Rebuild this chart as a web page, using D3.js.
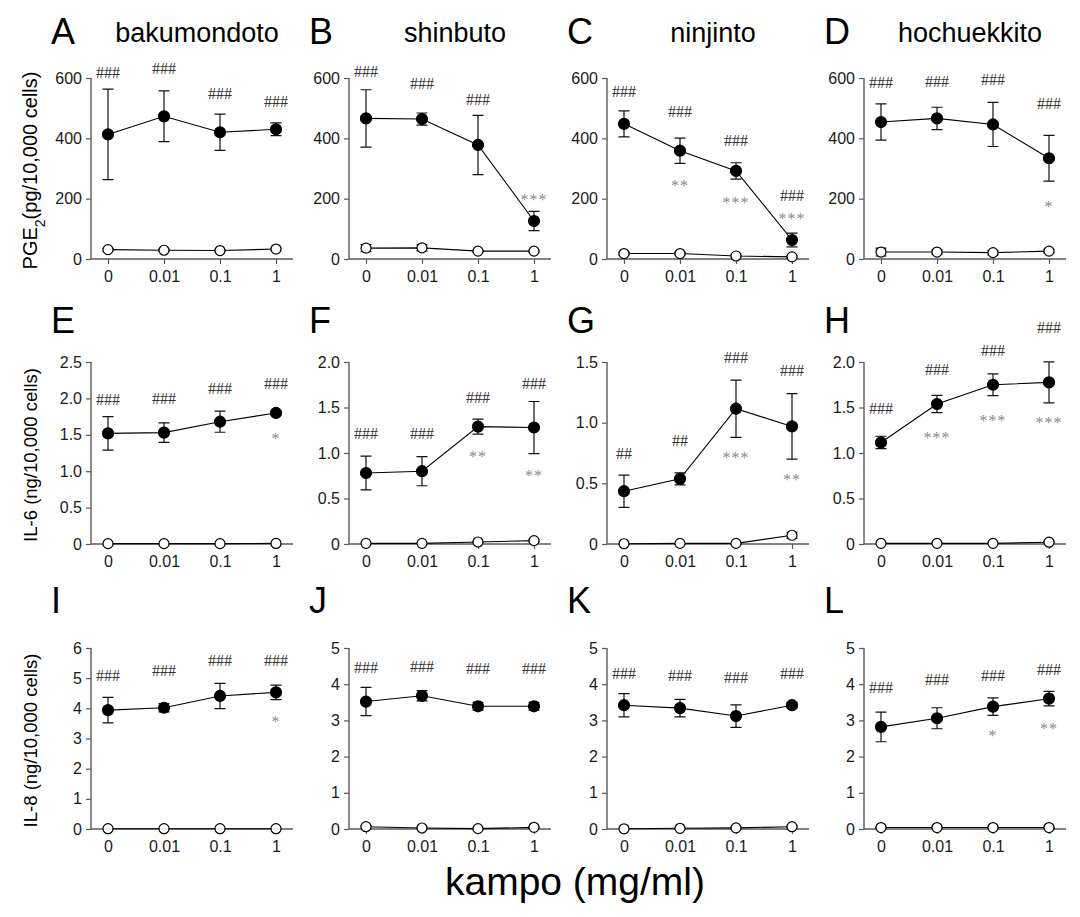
<!DOCTYPE html>
<html>
<head>
<meta charset="utf-8">
<script src="https://cdn.jsdelivr.net/npm/d3@7"></script>
<style>
  html, body { margin: 0; padding: 0; background: #fff; }
  svg { display: block; font-family: "Liberation Sans", Arial, Helvetica, sans-serif; }
</style>
</head>
<body>
<svg id="chart" width="1080" height="917"></svg>
<script>
// ---------------- data ----------------
const doseLabels = ["0", "0.01", "0.1", "1"];
const panelLetters = ["A","B","C","D","E","F","G","H","I","J","K","L"];
const kampoNames = ["bakumondoto", "shinbuto", "ninjinto", "hochuekkito"];
const rowMeasures = ["PGE2", "IL-6", "IL-8"];
const yMaxes = [600, 600, 600, 600, 2.5, 2.0, 1.5, 2.0, 6, 5, 5, 5];
const yTickValues = [
  [0, 200, 400, 600], [0, 200, 400, 600], [0, 200, 400, 600], [0, 200, 400, 600],
  [0, 0.5, 1.0, 1.5, 2.0, 2.5], [0, 0.5, 1.0, 1.5, 2.0], [0, 0.5, 1.0, 1.5], [0, 0.5, 1.0, 1.5, 2.0],
  [0, 1, 2, 3, 4, 5, 6], [0, 1, 2, 3, 4, 5], [0, 1, 2, 3, 4, 5], [0, 1, 2, 3, 4, 5]
];
// stimulated (filled) series
const lpsMean = [
  [413, 473, 420, 430], [466, 464, 378, 126], [448, 359, 292, 63], [454, 466, 446, 334],
  [1.52, 1.53, 1.68, 1.80], [0.78, 0.80, 1.29, 1.28], [0.435, 0.537, 1.115, 0.969], [1.116, 1.538, 1.75, 1.776],
  [3.94, 4.02, 4.41, 4.53], [3.52, 3.68, 3.39, 3.39], [3.42, 3.34, 3.12, 3.42], [2.82, 3.06, 3.38, 3.60]
];
const lpsErr = [
  [150, 84, 60, 21], [95, 20, 98, 32], [43, 42, 27, 23], [60, 37, 73, 76],
  [0.23, 0.135, 0.145, 0.03], [0.185, 0.16, 0.083, 0.286], [0.133, 0.05, 0.236, 0.27], [0.068, 0.095, 0.12, 0.225],
  [0.42, 0.14, 0.42, 0.24], [0.39, 0.14, 0.11, 0.11], [0.32, 0.24, 0.31, 0.07], [0.41, 0.29, 0.24, 0.2]
];
// control (open) series
const ctrlMean = [
  [31, 29, 28, 33], [36, 37, 26, 26], [18, 18, 10, 7], [23, 23, 21, 26],
  [0.005, 0.005, 0.005, 0.008], [0.007, 0.007, 0.022, 0.037], [0.002, 0.005, 0.005, 0.072], [0.007, 0.007, 0.007, 0.02],
  [0.01, 0.01, 0.01, 0.01], [0.064, 0.028, 0.01, 0.046], [0.005, 0.02, 0.03, 0.064], [0.04, 0.04, 0.04, 0.04]
];
const ctrlErr = [
  [4, 4, 3, 4], [12, 10, 3, 3], [4, 4, 3, 3], [13, 7, 7, 6],
  [0, 0, 0, 0], [0, 0, 0.005, 0.01], [0, 0, 0, 0.025], [0, 0, 0, 0.008],
  [0, 0, 0, 0], [0.03, 0.02, 0.01, 0.02], [0, 0.015, 0.02, 0.02], [0.02, 0.02, 0.02, 0.02]
];
// significance marks and the value level at which they are printed
const hashText = [
  ["###","###","###","###"], ["###","###","###",""], ["###","###","###","###"], ["###","###","###","###"],
  ["###","###","###","###"], ["###","###","###","###"], ["##","##","###","###"], ["###","###","###","###"],
  ["###","###","###","###"], ["###","###","###","###"], ["###","###","###","###"], ["###","###","###","###"]
];
const hashLevel = [
  [617, 631, 548, 521], [622, 581, 529, null], [556, 487, 393, 210], [586, 589, 595, 515],
  [1.98, 1.995, 2.14, 2.20], [1.211, 1.218, 1.604, 1.761], [0.749, 0.853, 1.533, 1.429], [1.49, 1.916, 2.128, 2.374],
  [5.095, 5.239, 5.59, 5.59], [4.45, 4.49, 4.43, 4.43], [4.29, 4.25, 4.17, 4.29], [3.906, 4.127, 4.246, 4.40]
];
const starText = [
  ["","","",""], ["","","","***"], ["","**","***","***"], ["","","","*"],
  ["","","","*"], ["","","**","**"], ["","","***","**"], ["","***","***","***"],
  ["","","","*"], ["","","",""], ["","","",""], ["","","*","**"]
];
const starLevel = [
  [null,null,null,null], [null,null,null,207], [null,251,196,141], [null,null,null,181],
  [null,null,null,1.49], [null,null,0.99,0.785], [null,null,0.732,0.556], [null,1.2,1.39,1.358],
  [null,null,null,3.66], [null,null,null,null], [null,null,null,null], [null,null,2.64,2.85]
];
const xAxisTitle = "kampo (mg/ml)";

// ---------------- layout ----------------
const colAxisX = [91, 349, 607, 864];
const rowTop = [78, 362, 648];
const rowBottom = [259, 544, 829];
const letterBaseline = [44, 333, 613];
const plotWidth = 202;
const axisColor = "#5a5a5a";

const svg = d3.select("#chart");

function fmtTick(panel, v) {
  if (v === 0) return "0";
  if (panel >= 4 && panel < 8) return d3.format(".1f")(v);
  return String(v);
}

for (let p = 0; p < 12; p++) {
  const r = Math.floor(p / 4), c = p % 4;
  const x0 = colAxisX[c];
  const x = d3.scalePoint().domain(doseLabels).range([x0 + 17, x0 + 17 + 56 * 3]);
  const y = d3.scaleLinear().domain([0, yMaxes[p]]).range([rowBottom[r], rowTop[r]]);
  const g = svg.append("g");

  // y axis
  const yAx = g.append("g").attr("transform", `translate(${x0},0)`)
    .call(d3.axisLeft(y).tickValues(yTickValues[p]).tickSize(5).tickPadding(4).tickFormat(v => fmtTick(p, v)));
  yAx.select(".domain").attr("stroke", axisColor).attr("stroke-width", 1.4).attr("d", `M0,${rowTop[r]}V${rowBottom[r]}`);
  yAx.selectAll(".tick line").attr("stroke", axisColor).attr("stroke-width", 1.2);
  yAx.selectAll(".tick text").attr("fill", "#1a1a1a").style("font-size", "16px");

  // x axis
  const xAx = g.append("g").attr("transform", `translate(0,${rowBottom[r]})`)
    .call(d3.axisBottom(x).tickSize(5).tickPadding(7));
  xAx.select(".domain").attr("stroke", axisColor).attr("stroke-width", 1.4).attr("d", `M${x0},0H${x0 + plotWidth}`);
  xAx.selectAll(".tick line").attr("stroke", axisColor).attr("stroke-width", 1.2);
  xAx.selectAll(".tick text").attr("fill", "#1a1a1a").style("font-size", "16px");

  const line = d3.line().x((d, i) => x(doseLabels[i])).y(d => y(d));

  // series: control (open) then stimulated (filled)
  const series = [
    { mean: ctrlMean[p], err: ctrlErr[p], fill: "#fff" },
    { mean: lpsMean[p], err: lpsErr[p], fill: "#000" }
  ];
  series.forEach(s => {
    g.append("path").datum(s.mean).attr("d", line)
      .attr("fill", "none").attr("stroke", "#000").attr("stroke-width", 1.1);
    s.mean.forEach((m, i) => {
      const e = s.err[i];
      if (e > 0) {
        const cx = x(doseLabels[i]);
        const yt = y(m + e), yb = y(Math.max(0, m - e));
        g.append("path")
          .attr("d", `M${cx},${yt}V${yb}M${cx - 5.5},${yt}H${cx + 5.5}M${cx - 5.5},${yb}H${cx + 5.5}`)
          .attr("stroke", "#111").attr("stroke-width", 1.2).attr("fill", "none");
      }
    });
    g.selectAll(null).data(s.mean).enter().append("circle")
      .attr("cx", (d, i) => x(doseLabels[i])).attr("cy", d => y(d))
      .attr("r", s.fill === "#000" ? 5.5 : 5)
      .attr("fill", s.fill).attr("stroke", "#000").attr("stroke-width", 1.2);
  });

  // significance marks
  hashText[p].forEach((t, i) => {
    if (!t || hashLevel[p][i] == null) return;
    g.append("text").attr("x", x(doseLabels[i])).attr("y", y(hashLevel[p][i]) + 5.4)
      .attr("text-anchor", "middle").attr("fill", "#333")
      .style("font-family", "'Liberation Serif', 'Times New Roman', serif").style("font-size", "16px")
      .text(t);
  });
  starText[p].forEach((t, i) => {
    if (!t || starLevel[p][i] == null) return;
    g.append("text").attr("x", x(doseLabels[i])).attr("y", y(starLevel[p][i]) + 8)
      .attr("text-anchor", "middle").attr("fill", "#8a8a8a").attr("letter-spacing", "1px")
      .style("font-family", "'Liberation Serif', 'Times New Roman', serif").style("font-size", "16px")
      .text(t);
  });

  // panel letter
  svg.append("text").attr("x", x0 - 40).attr("y", letterBaseline[r])
    .style("font-size", "36px").attr("fill", "#000").text(panelLetters[p]);
  // kampo name on first row
  if (r === 0) {
    svg.append("text").attr("x", x0 + 106).attr("y", 42).attr("text-anchor", "middle")
      .style("font-size", "27px").attr("fill", "#000").text(kampoNames[c]);
  }
}

// y axis labels
rowMeasures.forEach((m, r) => {
  const cy = (rowTop[r] + rowBottom[r]) / 2 + 2;
  const t = svg.append("text").attr("transform", `translate(37,${cy}) rotate(-90)`)
    .attr("text-anchor", "middle").attr("fill", "#000");
  if (m === "PGE2") {
    t.style("font-size", "20px");
    t.append("tspan").text("PGE");
    t.append("tspan").attr("baseline-shift", "sub").style("font-size", "14px").text("2");
    t.append("tspan").text("(pg/10,000 cells)");
  } else {
    t.style("font-size", "18.5px");
    t.text(`${m} (ng/10,000 cells)`);
  }
});

// x axis title
svg.append("text").attr("x", 575).attr("y", 895).attr("text-anchor", "middle")
  .style("font-size", "39px").attr("fill", "#000").text(xAxisTitle);
</script>
</body>
</html>
